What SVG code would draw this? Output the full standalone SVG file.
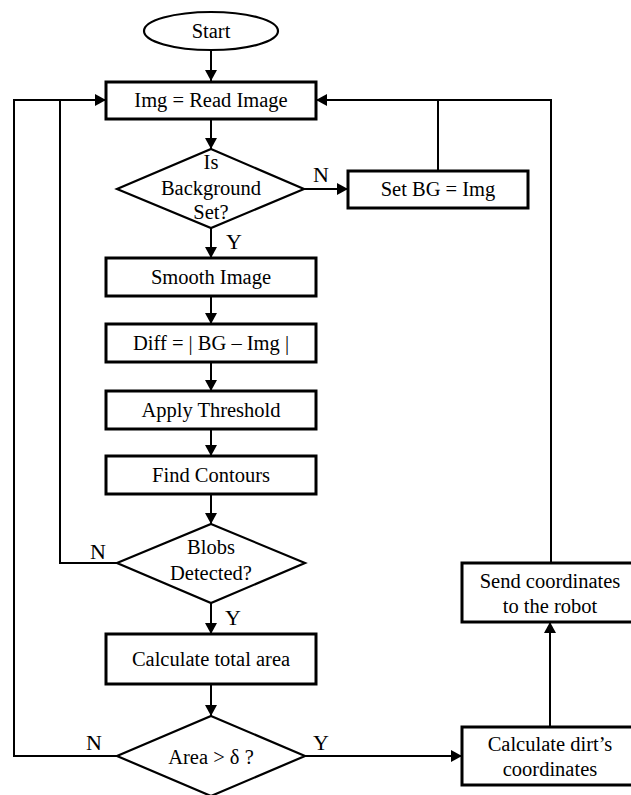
<svg xmlns="http://www.w3.org/2000/svg" width="631" height="795" viewBox="0 0 631 795">
<style>
.box{fill:#fff;stroke:#000;stroke-width:3}
.dia{fill:#fff;stroke:#000;stroke-width:2.2}
.ln{fill:none;stroke:#000;stroke-width:2}
text{font-family:"Liberation Serif","Times New Roman",serif;font-size:20.5px;fill:#000;text-anchor:middle}
.lbl{font-size:22px}
</style>
<defs>
<marker id="ah" markerUnits="userSpaceOnUse" markerWidth="12" markerHeight="12" refX="11" refY="6" orient="auto">
<path d="M0,0 L11,6 L0,12 z" fill="#000"/>
</marker>
</defs>
<rect width="631" height="795" fill="#fff"/>
<g id="connectors">
<path class="ln" d="M211,50 V81" marker-end="url(#ah)"/>
<path class="ln" d="M211,119 V149" marker-end="url(#ah)"/>
<path class="ln" d="M304,189 H348" marker-end="url(#ah)"/>
<path class="ln" d="M438,171 V100"/>
<path class="ln" d="M551,563 V100 H316" marker-end="url(#ah)"/>
<path class="ln" d="M211,228 V258" marker-end="url(#ah)"/>
<path class="ln" d="M211,296 V324" marker-end="url(#ah)"/>
<path class="ln" d="M211,362 V391" marker-end="url(#ah)"/>
<path class="ln" d="M211,429 V456" marker-end="url(#ah)"/>
<path class="ln" d="M211,494 V524" marker-end="url(#ah)"/>
<path class="ln" d="M117,563 H60 V100 H106" marker-end="url(#ah)"/>
<path class="ln" d="M211,603 V634" marker-end="url(#ah)"/>
<path class="ln" d="M211,684 V716" marker-end="url(#ah)"/>
<path class="ln" d="M117,756 H14 V100 H60"/>
<path class="ln" d="M305,756 H462" marker-end="url(#ah)"/>
<path class="ln" d="M550,727 V622" marker-end="url(#ah)"/>
<text class="lbl" x="321" y="182">N</text>
<text class="lbl" x="234" y="249">Y</text>
<text class="lbl" x="98" y="559">N</text>
<text class="lbl" x="233" y="625">Y</text>
<text class="lbl" x="94" y="750">N</text>
<text class="lbl" x="321" y="750">Y</text>
</g>
<g id="start">
<ellipse cx="211" cy="31" rx="67" ry="19" fill="#fff" stroke="#000" stroke-width="2.2"/>
<text x="211" y="38">Start</text>
</g>
<g id="read">
<rect class="box" x="106" y="82" width="210" height="37"/>
<text x="211" y="107">Img = Read Image</text>
</g>
<g id="bgset">
<polygon class="dia" points="211,149 304,189 211,228 117,189"/>
<text x="211" y="169">Is</text>
<text x="211" y="195">Background</text>
<text x="211" y="219">Set?</text>
</g>
<g id="setbg">
<rect class="box" x="348" y="171" width="180" height="37"/>
<text x="438" y="196">Set BG = Img</text>
</g>
<g id="smooth">
<rect class="box" x="106" y="258" width="210" height="38"/>
<text x="211" y="284">Smooth Image</text>
</g>
<g id="diff">
<rect class="box" x="106" y="324" width="210" height="38"/>
<text x="211" y="350">Diff = | BG – Img |</text>
</g>
<g id="threshold">
<rect class="box" x="106" y="391" width="210" height="38"/>
<text x="211" y="417">Apply Threshold</text>
</g>
<g id="contours">
<rect class="box" x="106" y="456" width="210" height="38"/>
<text x="211" y="482">Find Contours</text>
</g>
<g id="blobs">
<polygon class="dia" points="211,524 305,563 211,603 117,563"/>
<text x="211" y="554">Blobs</text>
<text x="211" y="580">Detected?</text>
</g>
<g id="area">
<rect class="box" x="106" y="634" width="210" height="50"/>
<text x="211" y="666">Calculate total area</text>
</g>
<g id="areacheck">
<polygon class="dia" points="211,716 305,756 211,796 117,756"/>
<text x="211" y="764">Area &gt; δ ?</text>
</g>
<g id="dirt">
<rect class="box" x="462" y="727" width="172" height="58"/>
<text x="550" y="751">Calculate dirt’s</text>
<text x="550" y="776">coordinates</text>
</g>
<g id="send">
<rect class="box" x="462" y="563" width="172" height="59"/>
<text x="550" y="588">Send coordinates</text>
<text x="550" y="613">to the robot</text>
</g>
</svg>
